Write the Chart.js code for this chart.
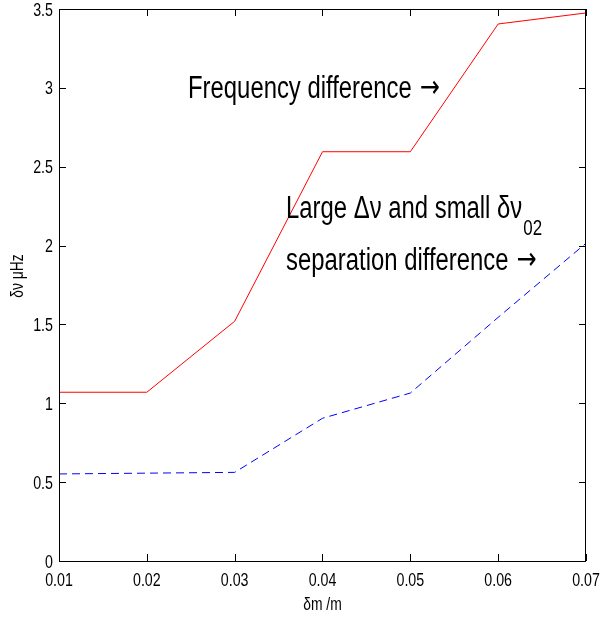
<!DOCTYPE html>
<html>
<head>
<meta charset="utf-8">
<style>
  body { margin: 0; background: #fff; }
  #chart { display: block; }
</style>
</head>
<body>
<canvas id="chart" width="600" height="619"></canvas>
<script src="https://cdn.jsdelivr.net/npm/chart.js@4.4.1/dist/chart.umd.min.js"></script>
<script>
const massSteps = [0.01, 0.02, 0.03, 0.04, 0.05, 0.06, 0.07];
const freqDiff = [1.07, 1.07, 1.52, 2.595, 2.595, 3.405, 3.475];
const sepDiff = [0.552, 0.557, 0.562, 0.905, 1.065, 1.545, 2.015];
const xTicks = [0.01, 0.02, 0.03, 0.04, 0.05, 0.06, 0.07];
const yTicks = [0, 0.5, 1, 1.5, 2, 2.5, 3, 3.5];
const xTitle = "\u03b4m /m";
const yTitle = "\u03b4\u03bd \u03bcHz";

const FONT = "'Liberation Sans', Arial, sans-serif";
const SQUEEZE = 0.77;

function points(values) {
  return massSteps.map((m, i) => ({ x: m, y: values[i] }));
}

// the original uses a tall, narrow Helvetica, so text gets squeezed sideways
function squeezedText(c, text, x, y, size, align = "left", family = FONT) {
  c.save();
  c.translate(x, y);
  c.scale(SQUEEZE, 1);
  c.font = size + "px " + family;
  c.textBaseline = "alphabetic";
  c.textAlign = align;
  c.fillText(text, 0, 0);
  const w = c.measureText(text).width * SQUEEZE;
  c.restore();
  return w;
}

function arrowNote(c, text, x, y) {
  const w = squeezedText(c, text, x, y, 31);
  squeezedText(c, "\u2192", x + w + 8, y - 1, 31, "left", "'DejaVu Sans', sans-serif");
}

// box round the plot plus inward ticks on every side, like the original
const frameTicks = {
  id: "frameTicks",
  afterDatasetsDraw(chart) {
    const c = chart.ctx;
    const a = chart.chartArea;
    const xs = chart.scales.x;
    const ys = chart.scales.y;
    const len = 7;
    c.save();
    c.strokeStyle = "#000";
    c.lineWidth = 1;
    c.strokeRect(a.left + 0.5, a.top + 0.5, a.right - a.left - 1, a.bottom - a.top);
    c.beginPath();
    xTicks.forEach(v => {
      const px = Math.round(xs.getPixelForValue(v)) + 0.5;
      c.moveTo(px, a.bottom);
      c.lineTo(px, a.bottom - len);
      c.moveTo(px, a.top);
      c.lineTo(px, a.top + len);
    });
    yTicks.forEach(v => {
      const py = Math.round(ys.getPixelForValue(v)) + 0.5;
      c.moveTo(a.left, py);
      c.lineTo(a.left + len, py);
      c.moveTo(a.right, py);
      c.lineTo(a.right - len, py);
    });
    c.stroke();
    c.restore();
  }
};

// tick labels, axis titles and the two notes
const labels = {
  id: "labels",
  afterDraw(chart) {
    const c = chart.ctx;
    const a = chart.chartArea;
    const xs = chart.scales.x;
    const ys = chart.scales.y;
    c.save();
    c.fillStyle = "#000";

    xTicks.forEach(v => {
      squeezedText(c, v.toFixed(2), xs.getPixelForValue(v), a.bottom + 25, 18.5, "center");
    });
    yTicks.forEach(v => {
      squeezedText(c, String(v), a.left - 6, ys.getPixelForValue(v) + 6.5, 18.5, "right");
    });

    squeezedText(c, xTitle, (a.left + a.right) / 2, 610, 18, "center");
    c.save();
    c.translate(23, 276);
    c.rotate(-Math.PI / 2);
    squeezedText(c, yTitle, 0, 0, 18, "center");
    c.restore();

    arrowNote(c, "Frequency difference", xs.getPixelForValue(0.02469), ys.getPixelForValue(2.936));

    const lx = xs.getPixelForValue(0.03585);
    const ly = ys.getPixelForValue(2.175);
    const w = squeezedText(c, "Large \u0394\u03bd and small \u03b4\u03bd", lx, ly, 31);
    squeezedText(c, "02", lx + w + 1, ly + 17, 22);
    arrowNote(c, "separation difference", lx, ys.getPixelForValue(1.845));
    c.restore();
  }
};

new Chart(document.getElementById("chart"), {
  type: "line",
  data: {
    datasets: [
      {
        label: "Frequency difference",
        data: points(freqDiff),
        borderColor: "#ff0000",
        borderWidth: 1,
        pointRadius: 0,
        tension: 0
      },
      {
        label: "Separation difference",
        data: points(sepDiff),
        borderColor: "#0000ff",
        borderWidth: 1,
        borderDash: [8, 5],
        pointRadius: 0,
        tension: 0
      }
    ]
  },
  options: {
    responsive: false,
    animation: false,
    events: [],
    layout: { padding: { top: 9, right: 14, left: 0, bottom: 0 } },
    plugins: {
      legend: { display: false },
      tooltip: { enabled: false }
    },
    scales: {
      x: {
        type: "linear",
        min: 0.01,
        max: 0.07,
        afterBuildTicks: scale => { scale.ticks = xTicks.map(v => ({ value: v })); },
        afterFit: scale => {
          scale.height = 58;
          scale.paddingLeft = 0;
          scale.paddingRight = 0;
        },
        grid: { display: false, drawTicks: false },
        border: { display: false },
        ticks: { display: false }
      },
      y: {
        type: "linear",
        min: 0,
        max: 3.5,
        afterBuildTicks: scale => { scale.ticks = yTicks.map(v => ({ value: v })); },
        afterFit: scale => {
          scale.width = 59;
          scale.paddingTop = 0;
          scale.paddingBottom = 0;
        },
        grid: { display: false, drawTicks: false },
        border: { display: false },
        ticks: { display: false }
      }
    }
  },
  plugins: [frameTicks, labels]
});
</script>
</body>
</html>
